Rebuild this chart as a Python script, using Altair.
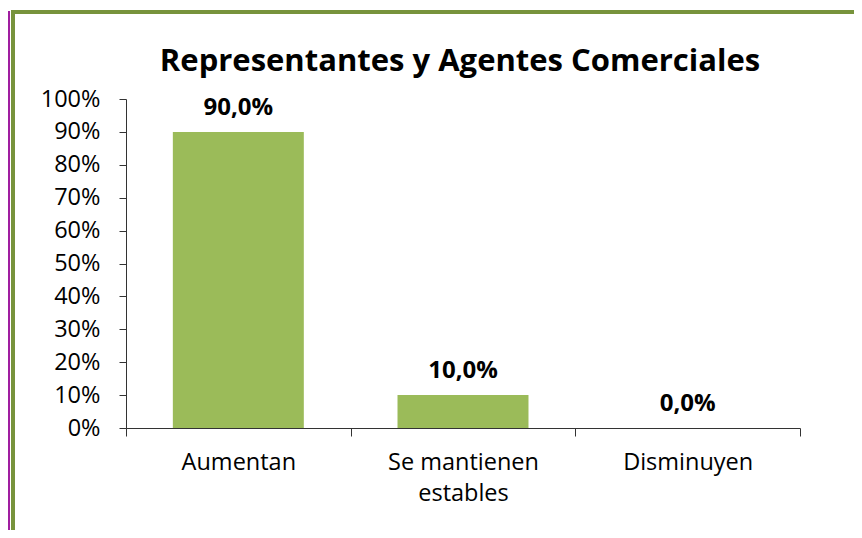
import altair as alt
import pandas as pd

categories = ["Aumentan", "Se mantienen estables", "Disminuyen"]
values = [0.90, 0.10, 0.00]
value_labels = ["90,0%", "10,0%", "0,0%"]
title_text = "Representantes y Agentes Comerciales"

df = pd.DataFrame({"cat": categories, "val": values, "lbl": value_labels})

FONT = "Open Sans"
W, H = 674, 329

x_axis = alt.Axis(
    tickBand="extent",
    labelAngle=0,
    labelFont=FONT,
    labelFontSize=23.5,
    labelColor="#000000",
    labelPadding=14,
    labelLineHeight=31,
    labelExpr="datum.value == 'Se mantienen estables' ? ['Se mantienen', 'estables'] : datum.label",
    domainColor="#333333",
    tickColor="#333333",
    tickSize=8,
    grid=False,
)

y_axis = alt.Axis(
    format=".0%",
    values=[0, 0.1, 0.2, 0.3, 0.4, 0.5, 0.6, 0.7, 0.8, 0.9, 1.0],
    labelOverlap=False,
    labelFont=FONT,
    labelFontSize=23.5,
    labelColor="#000000",
    labelPadding=19,
    domainColor="#333333",
    tickColor="#333333",
    tickSize=7,
    grid=False,
)

x_scale = alt.Scale(paddingInner=0, paddingOuter=0)
y_scale = alt.Scale(domain=[0, 1], nice=False)


def xe():
    return alt.X("cat:N", sort=categories, title=None, scale=x_scale, axis=x_axis)


def ye():
    return alt.Y("val:Q", title=None, scale=y_scale, axis=y_axis)


base = alt.Chart(df)

bars = base.mark_bar(color="#9BBB59", width={"band": 0.583}).encode(x=xe(), y=ye())

texts = base.mark_text(
    font=FONT, fontSize=24, fontWeight="bold", color="#000000", dy=-17, baseline="alphabetic"
).encode(x=xe(), y=ye(), text="lbl:N")

one = pd.DataFrame({"k": [0]})

title_mark = alt.Chart(one).mark_text(
    font=FONT, fontSize=31, fontWeight="bold", color="#000000", baseline="alphabetic", align="center"
).encode(x=alt.value(W / 2 - 3), y=alt.value(-28), text=alt.value(title_text))

frame = alt.Chart(one).mark_rect(
    fill=None, stroke="#77933C", strokeWidth=4, clip=False
).encode(
    x=alt.value(-113), x2=alt.value(900), y=alt.value(-87), y2=alt.value(700)
)

side = alt.Chart(one).mark_rule(
    color="#A01EA0", strokeWidth=2
).encode(
    x=alt.value(-117), y=alt.value(-88), y2=alt.value(700)
)

chart = alt.layer(frame, side, bars, texts, title_mark).properties(
    width=W,
    height=H,
    padding={"left": 118, "top": 91, "right": 54, "bottom": 102},
    autosize=alt.AutoSizeParams(type="none"),
).configure_view(stroke=None)

chart.save("out.html", embed_options={"renderer": "svg", "actions": False})
